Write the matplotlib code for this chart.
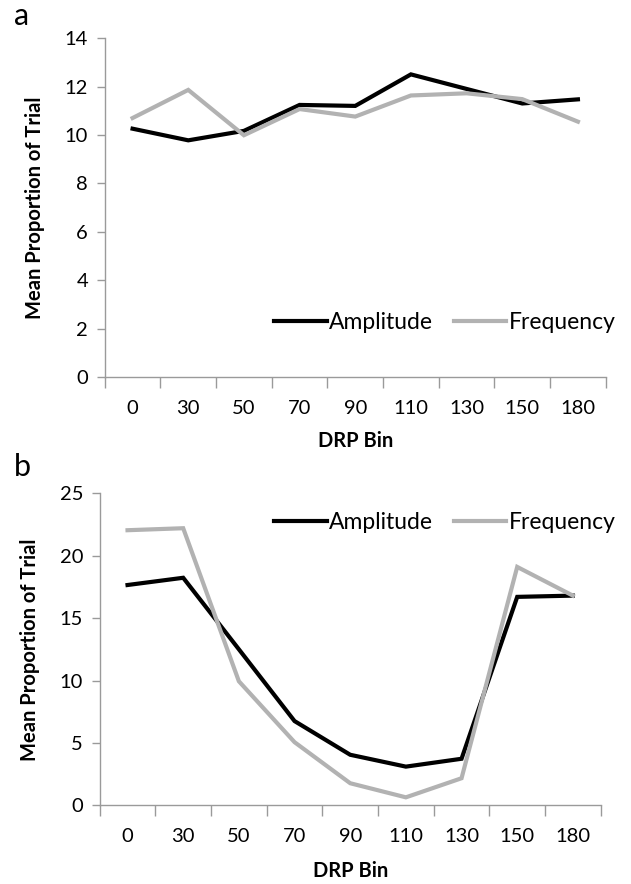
import matplotlib
matplotlib.use("Agg")
import matplotlib.pyplot as plt
import numpy as np

plt.rcParams['font.family'] = ['Lato', 'DejaVu Sans']

categories = ["0", "30", "50", "70", "90", "110", "130", "150", "180"]
a_amplitude = [10.26, 9.78, 10.17, 11.24, 11.2, 12.5, 11.9, 11.3, 11.47]
a_frequency = [10.7, 11.86, 9.99, 11.07, 10.76, 11.63, 11.72, 11.48, 10.55]
b_amplitude = [17.65, 18.23, 12.5, 6.75, 4.05, 3.1, 3.73, 16.7, 16.8]
b_frequency = [22.04, 22.2, 9.94, 5.06, 1.77, 0.64, 2.17, 19.1, 16.8]
a_yticks = [0, 2, 4, 6, 8, 10, 12, 14]
b_yticks = [0, 5, 10, 15, 20, 25]

fig = plt.figure(figsize=(6.31, 8.84), dpi=100)
ax1 = fig.add_axes([0.166, 0.573, 0.794, 0.384])
ax2 = fig.add_axes([0.158, 0.089, 0.794, 0.353])

spine_col = "#9a9a9a"
blk = "#000000"
gry = "#b2b2b2"
FS = 14.5
LFS = 16.5

def style(ax, yticks, amp, freq, legend_anchor, xlabelpad):
    x = np.arange(len(categories))
    ax.plot(x, amp, color=blk, lw=3.0, label="Amplitude", solid_joinstyle='miter')
    ax.plot(x, freq, color=gry, lw=3.0, label="Frequency", solid_joinstyle='miter')
    ax.set_xlim(-0.5, len(categories) - 0.5)
    ax.set_ylim(yticks[0], yticks[-1])
    ax.set_yticks(yticks)
    ax.set_xticks(np.arange(-0.5, len(categories), 1.0))
    ax.set_xticklabels([])
    ax.set_xticks(x, minor=True)
    ax.set_xticklabels(categories, minor=True)
    ax.tick_params(axis='x', which='major', direction='out', length=8, color=spine_col, width=1)
    ax.tick_params(axis='x', which='minor', length=0, pad=16, labelsize=FS)
    ax.tick_params(axis='y', direction='out', length=6, color=spine_col, width=1, labelsize=FS, pad=6)
    for s in ['top', 'right']:
        ax.spines[s].set_visible(False)
    for s in ['left', 'bottom']:
        ax.spines[s].set_color(spine_col)
        ax.spines[s].set_linewidth(1)
    ax.set_ylabel("Mean Proportion of Trial", fontsize=FS, fontweight='bold', labelpad=14)
    ax.set_xlabel("DRP Bin", fontsize=FS, fontweight='bold', labelpad=xlabelpad)
    ax.legend(loc='center left', bbox_to_anchor=legend_anchor, ncol=2, frameon=False,
              fontsize=LFS, handlelength=2.3, handletextpad=0.1, columnspacing=0.9,
              borderaxespad=0.0, borderpad=0.0)

style(ax1, a_yticks, a_amplitude, a_frequency, (0.338, 0.162), 10)
style(ax2, b_yticks, b_amplitude, b_frequency, (0.348, 0.905), 12)

fig.text(0.022, 0.972, "a", fontsize=22)
fig.text(0.022, 0.462, "b", fontsize=22)

fig.savefig("out.png", dpi=100)
